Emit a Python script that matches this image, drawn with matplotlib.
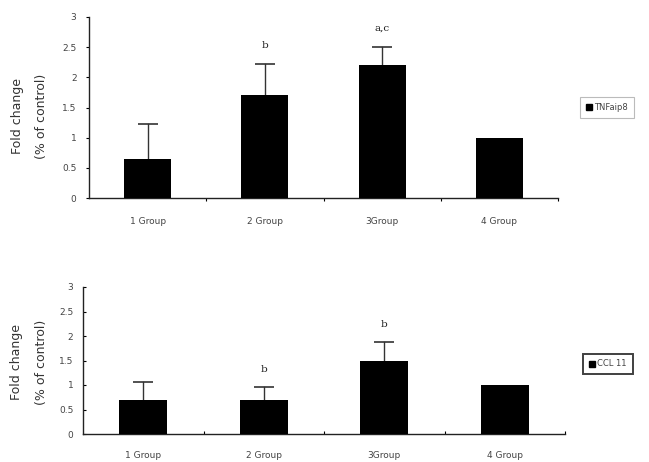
import matplotlib.pyplot as plt
from matplotlib.lines import Line2D

groups_top = ["1 Group", "2 Group", "3Group", "4 Group"]
tnf_mean = [0.65, 1.70, 2.20, 1.00]
tnf_err = [0.58, 0.52, 0.31, 0.0]
tnf_marks = ["", "b", "a,c", ""]

groups_bot = ["1 Group", "2 Group", "3Group", "4 Group"]
ccl_mean = [0.70, 0.70, 1.50, 1.00]
ccl_err = [0.36, 0.25, 0.37, 0.0]
ccl_marks = ["", "b", "b", ""]

yticks = [0, 0.5, 1, 1.5, 2, 2.5, 3]
ytick_labels = ["0", "0.5", "1", "1.5", "2", "2.5", "3"]

TICK_COLOR = "#444444"
W, H = 649, 462


def draw_panel(ax, labels, means, errs, marks, legend_name, mark_offset, xpad,
               tick_dir, label_x, label_y, legend_box, legend_edge, legend_lw):
    x = list(range(len(means)))
    ax.bar(x, means, width=0.4, color="black", linewidth=0, zorder=5)
    # upper error bars only: stem + cap
    for xi, m, e in zip(x, means, errs):
        if e > 0:
            ax.plot([xi, xi], [m, m + e], color="#333333", linewidth=1.0, zorder=4)
            ax.plot(xi, m + e, marker="_", markersize=14, markeredgewidth=1.2,
                    color="#333333", zorder=4)
    for xi, m, e, t in zip(x, means, errs, marks):
        if t:
            ax.text(xi, m + e + mark_offset, t, ha="center", va="center",
                    family="DejaVu Serif", fontsize=7.5, color="#222222")

    ax.set_xlim(-0.5, len(means) - 0.5)
    ax.set_ylim(0, 3)
    ax.set_xticks(x)
    ax.set_xticklabels(labels, fontsize=6.5, color=TICK_COLOR)
    ax.set_xticks([i + 0.5 for i in x[:-1]] + [len(means) - 0.5], minor=True)
    ax.tick_params(axis="x", which="major", length=0, pad=xpad)
    ax.tick_params(axis="x", which="minor", length=2.5, width=0.8, direction=tick_dir)
    ax.set_yticks(yticks)
    ax.set_yticklabels(ytick_labels, fontsize=6.5, color=TICK_COLOR)
    ax.tick_params(axis="y", length=2, width=0.8, pad=7, direction=tick_dir)

    for side in ["top", "right"]:
        ax.spines[side].set_visible(False)
    for side in ["left", "bottom"]:
        ax.spines[side].set_color("#222222")
        ax.spines[side].set_linewidth(1.0)

    fig = ax.figure
    fig.text(label_x[0] / W, 1 - label_y / H, "Fold change", rotation=90,
             ha="center", va="center", fontsize=9, color="#333333")
    fig.text(label_x[1] / W, 1 - label_y / H, "(% of control)", rotation=90,
             ha="center", va="center", fontsize=9, color="#333333")

    handle = Line2D([], [], marker="s", color="black", linestyle="none", markersize=5)
    leg = fig.legend([handle], [legend_name], loc="center",
                     bbox_to_anchor=legend_box, fontsize=6, frameon=True,
                     fancybox=False, handletextpad=0.2, handlelength=0.8,
                     borderpad=0.7)
    leg.get_frame().set_edgecolor(legend_edge)
    leg.get_frame().set_linewidth(legend_lw)
    for txt in leg.get_texts():
        txt.set_color("#444444")


fig = plt.figure(figsize=(6.49, 4.62), dpi=100)
ax1 = fig.add_axes([89 / W, 1 - 198 / H, (558 - 89) / W, (198 - 17) / H])
ax2 = fig.add_axes([83 / W, 1 - 434 / H, (565 - 83) / W, (434 - 287) / H])

draw_panel(ax1, groups_top, tnf_mean, tnf_err, tnf_marks, "TNFaip8", 0.31, 14, "out",
           (18, 42), 116, (607 / W, 1 - 107.5 / H), "#aaaaaa", 0.8)
draw_panel(ax2, groups_bot, ccl_mean, ccl_err, ccl_marks, "CCL 11", 0.37, 12, "in",
           (16.5, 41), 362, (608 / W, 1 - 364 / H), "#111111", 1.4)

plt.savefig("out.png", dpi=100)
